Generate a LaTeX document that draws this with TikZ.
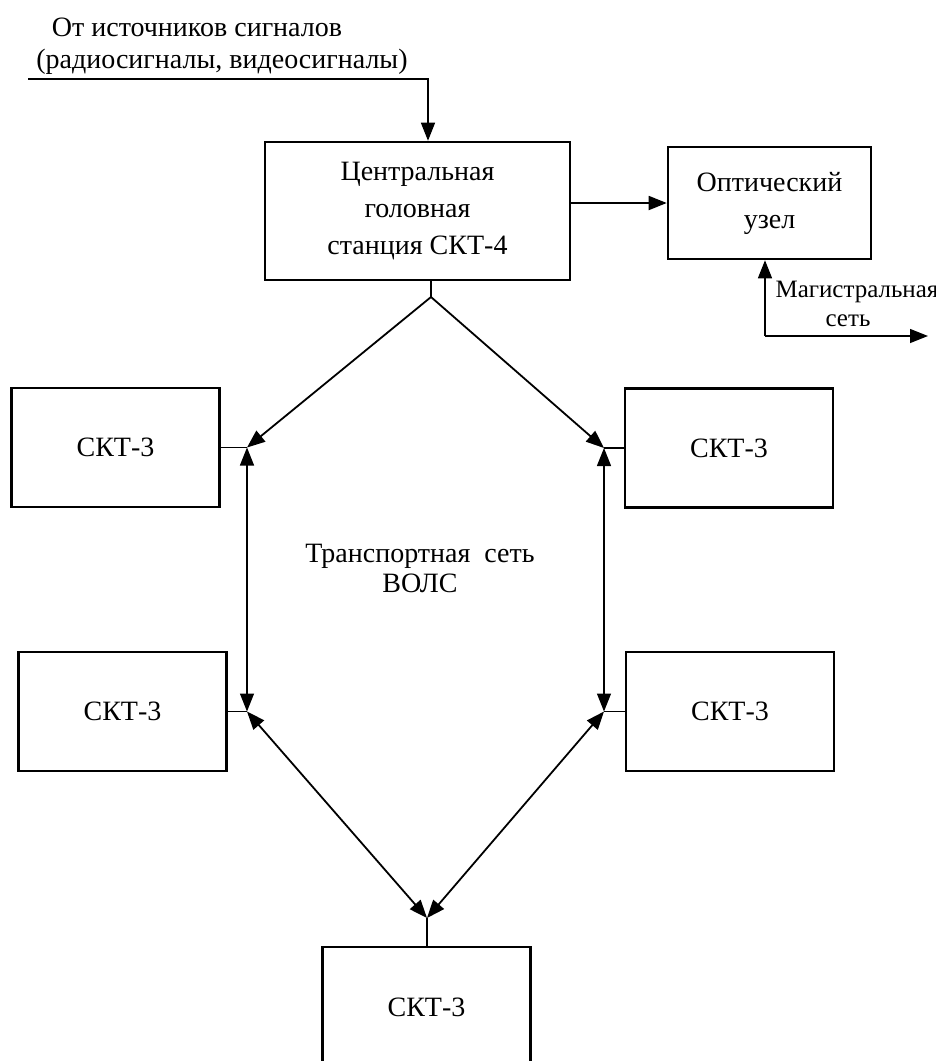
\documentclass[tikz,border=0pt]{standalone}
\usepackage{fontspec}
\setmainfont{Liberation Serif}
\usetikzlibrary{arrows.meta}

\begin{document}
\begin{tikzpicture}[x=0.5pt,y=-0.5pt,
  block/.style={draw, line width=1.3pt, rectangle, align=center, font=\fontsize{14}{18.5}\selectfont},
  skt/.style={block, minimum width=104pt, minimum height=59.5pt},
  link/.style={line width=0.9pt, -{Triangle[length=9pt,width=7pt]}},
  duplex/.style={line width=0.9pt, {Triangle[length=9pt,width=7pt]}-{Triangle[length=9pt,width=7pt]}},
  thin/.style={line width=0.6pt}]
\useasboundingbox (0,0) rectangle (936,1061);
\node[font=\fontsize{14}{17}\selectfont] (src1) at (197,27) {От источников сигналов};
\node[font=\fontsize{14}{17}\selectfont] (src2) at (222,62) {(радиосигналы, видеосигналы)};
\node[block, minimum width=152.5pt, minimum height=69pt] (center) at (417.5,211) {Центральная\\головная\\станция СКТ-4};
\node[block, minimum width=101.5pt, minimum height=56pt] (optic) at (769.5,203) {Оптический\\узел};
\node[skt] (l1) at (115.5,447.5) {СКТ-3};
\node[skt] (r1) at (729,448) {СКТ-3};
\node[skt] (l2) at (122.5,711.5) {СКТ-3};
\node[skt] (r2) at (730,711.5) {СКТ-3};
\node[skt, minimum height=60pt] (b) at (426.5,1007) {СКТ-3};
\node[align=center, font=\fontsize{14}{15}\selectfont] (wols) at (420,568) {Транспортная\ \ сеть\\ВОЛС};
% input and trunk
\coordinate (src) at (28,79);
\coordinate (in) at (428,79);
\draw[link, line width=0.7pt] (src) -- (in) -- (in |- center.north);
\draw[link] (center.east |- optic.west) -- (optic.west);
\coordinate (trunk) at (765,336);
\coordinate (trunkend) at (928,336);
\draw[link, line width=0.7pt] (trunk) -- (trunk |- optic.south);
\draw[link, line width=0.7pt] (trunk) -- (trunkend);
\node[font=\fontsize{12.5}{14}\selectfont] (trunk1) at (857,292) {Магистральная};
\node[font=\fontsize{12.5}{14}\selectfont] (trunk2) at (848,321) {сеть};
% ring
\coordinate (fork) at (431,297);
\coordinate (jl1) at (247,447.5);
\coordinate (jl2) at (jl1 |- l2.east);
\coordinate (jr1) at (604,448);
\coordinate (jr2) at (jr1 |- r2.west);
\coordinate (jb) at (427,918);
\draw[thin] (fork |- center.south) -- (fork);
\draw[link] (fork) -- (jl1);
\draw[link] (fork) -- (jr1);
\draw[thin] (l1.east) -- (jl1);
\draw[thin] (r1.west) -- (jr1);
\draw[thin] (l2.east) -- (jl2);
\draw[thin] (r2.west) -- (jr2);
\draw[thin] (jb |- b.north) -- (jb);
\draw[duplex, line width=0.6pt] (jl1) -- (jl2);
\draw[duplex, line width=0.6pt] (jr1) -- (jr2);
\draw[duplex] (jl2) -- (jb);
\draw[duplex] (jr2) -- (jb);
\end{tikzpicture}
\end{document}
